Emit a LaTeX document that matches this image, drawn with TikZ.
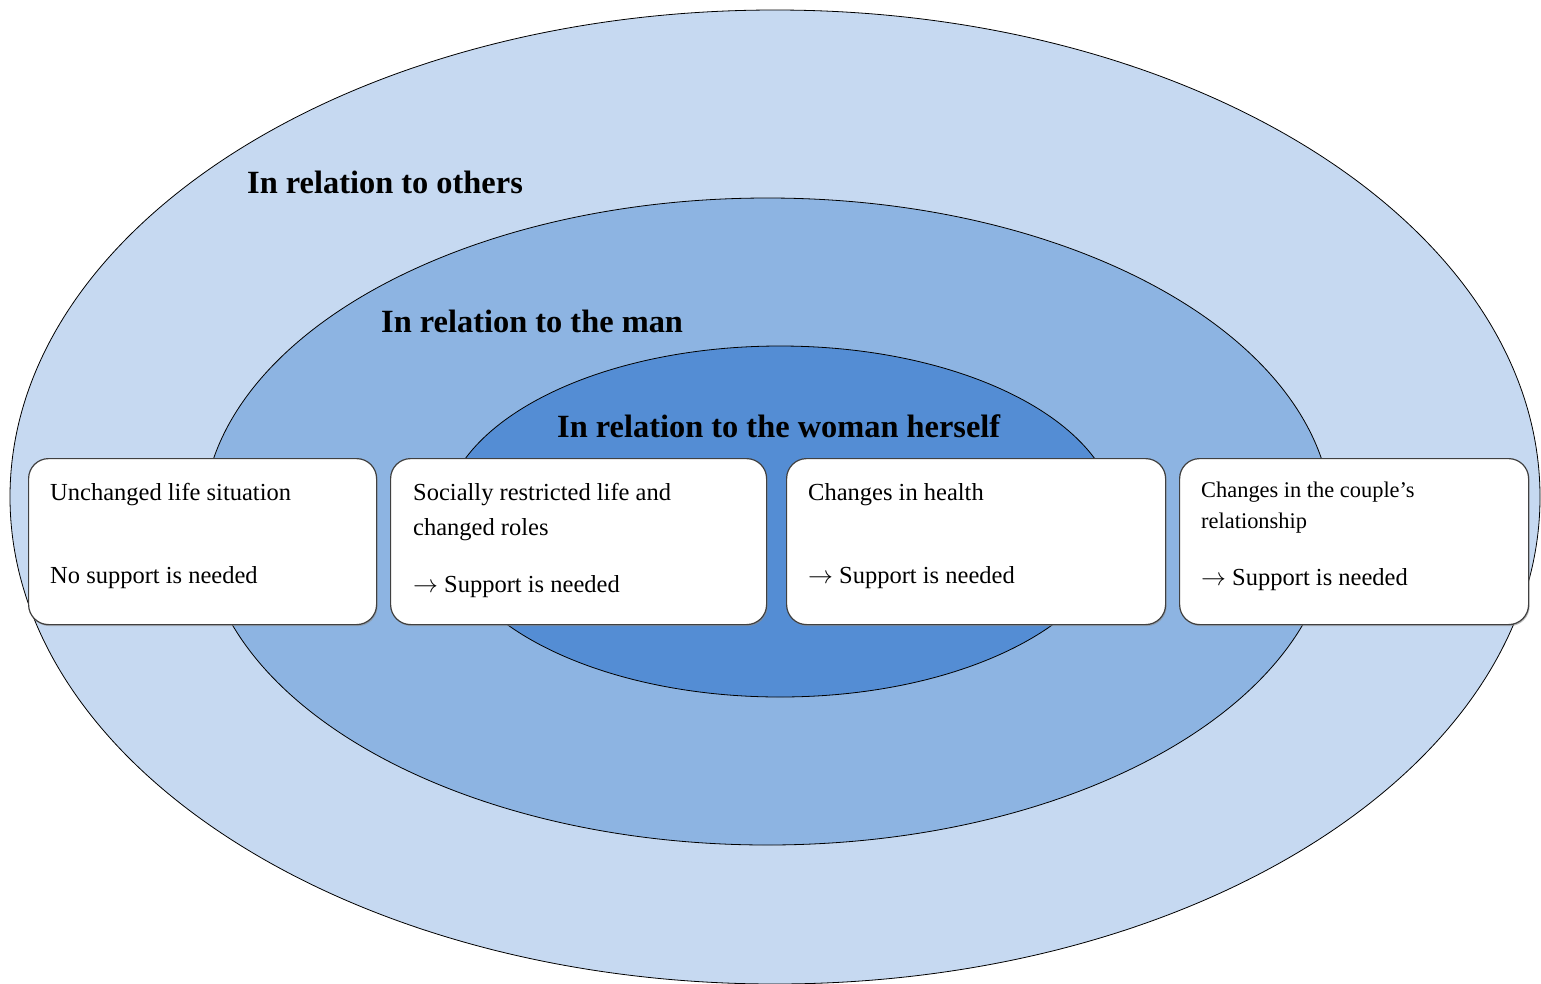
\documentclass[tikz,border=0pt]{standalone}
\usepackage{fontspec}
\setmainfont{Liberation Serif}
\usetikzlibrary{calc,shadows}
\definecolor{outerc}{HTML}{C6D9F1}
\definecolor{midc}{HTML}{8DB4E2}
\definecolor{innerc}{HTML}{548DD4}
\begin{document}
\begin{tikzpicture}[x=1pt,y=-1pt,
  ring/.style={draw=black, line width=0.8pt},
  card/.style={draw=black!75, line width=1.2pt, fill=white, rounded corners=20pt,
    drop shadow={shadow xshift=1pt, shadow yshift=-1.5pt, fill=black!45, opacity=0.6},
    inner sep=0pt, anchor=north west, minimum height=166pt},
  title/.style={font=\fontsize{32.4}{38}\selectfont\bfseries, anchor=base west, inner sep=0pt},
  body/.style={font=\fontsize{24.5}{30}\selectfont, anchor=base west, inner sep=0pt},
  smallbody/.style={font=\fontsize{22.4}{28}\selectfont, anchor=base west, inner sep=0pt}]
\useasboundingbox (0,0) rectangle (1541,983);
\clip (0,0) rectangle (1541,983);
\fill[white] (0,0) rectangle (1541,983);
% rings
\draw[ring, fill=outerc] (775,497) ellipse [x radius=765, y radius=487];
\draw[ring, fill=midc] (767.5,521.5) ellipse [x radius=564.6, y radius=323.5];
\draw[ring, fill=innerc] (780,521.5) ellipse [x radius=337, y radius=175.5];
% titles
\node[title] (others) at (247,193) {In relation to others};
\node[title] (man) at (381,332) {In relation to the man};
\node[title] (woman) at (557,437) {In relation to the woman herself};
% cards
\node[card, minimum width=348pt] (b1) at (28,458) {};
\node[card, minimum width=376pt] (b2) at (390,458) {};
\node[card, minimum width=379pt] (b3) at (786,458) {};
\node[card, minimum width=349pt] (b4) at (1179,458) {};
% card texts
\node[body] (b1a) at ($(b1.north west)+(22,42)$) {Unchanged life situation};
\node[body] (b1b) at ($(b1.north west)+(22,125)$) {No support is needed};
\node[body] (b2a) at ($(b2.north west)+(23,42)$) {Socially restricted life and};
\node[body] (b2b) at ($(b2.north west)+(23,77)$) {changed roles};
\node[body] (b2c) at ($(b2.north west)+(23,134)$) {$\rightarrow$ Support is needed};
\node[body] (b3a) at ($(b3.north west)+(22,42)$) {Changes in health};
\node[body] (b3b) at ($(b3.north west)+(22,125)$) {$\rightarrow$ Support is needed};
\node[smallbody] (b4a) at ($(b4.north west)+(22,39)$) {Changes in the couple’s};
\node[smallbody] (b4b) at ($(b4.north west)+(22,70)$) {relationship};
\node[body] (b4c) at ($(b4.north west)+(22,127)$) {$\rightarrow$ Support is needed};
\end{tikzpicture}
\end{document}
